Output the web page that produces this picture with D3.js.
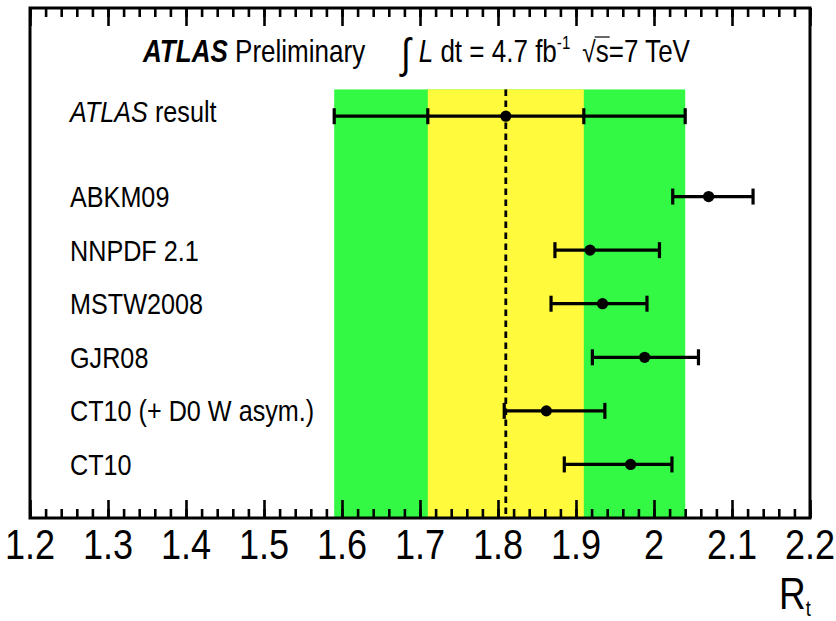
<!DOCTYPE html>
<html>
<head>
<meta charset="utf-8">
<script src="https://cdn.jsdelivr.net/npm/d3@7"></script>
<style>
  html, body { margin: 0; padding: 0; background: #fff; }
  svg { display: block; }
  text { font-family: "Liberation Sans", Arial, Helvetica, sans-serif; fill: #000; white-space: pre; }
</style>
</head>
<body>
<svg id="chart" width="836" height="621"></svg>
<script>
// R_t predictions from several PDF sets compared with the ATLAS measurement
const pdfNames  = ["ABKM09", "NNPDF 2.1", "MSTW2008", "GJR08", "CT10 (+ D0 W asym.)", "CT10"];
const pdfValues = [2.070, 1.918, 1.934, 1.988, 1.862, 1.970];
const pdfLow    = [2.024, 1.873, 1.868, 1.921, 1.808, 1.885];
const pdfHigh   = [2.127, 2.007, 1.991, 2.057, 1.937, 2.023];
const pdfRows   = [6, 5, 4, 3, 2, 1];

// ATLAS result: central value, statistical and total uncertainty
const atlasValue   = 1.81;
const atlasStatLow = 1.71,  atlasStatHigh = 1.91;
const atlasTotLow  = 1.59,  atlasTotHigh  = 2.04;
const atlasRow     = 7.5;
const bandTop      = 8;

const xTickValues = [1.2, 1.3, 1.4, 1.5, 1.6, 1.7, 1.8, 1.9, 2.0, 2.1, 2.2];
const xTickLabels = ["1.2", "1.3", "1.4", "1.5", "1.6", "1.7", "1.8", "1.9", "2", "2.1", "2.2"];
const xMinorStep  = 0.02;

const svg = d3.select("#chart");
const frame = { left: 30, right: 810, top: 8, bottom: 518 };
const SX = 0.84; // horizontal text compression

const x = d3.scaleLinear().domain([1.2, 2.2]).range([frame.left, frame.right]);
const y = d3.scaleLinear().domain([0, 9.52]).range([frame.bottom, frame.top]);

const GREEN = "#33f944", YELLOW = "#fffa3c";

// uncertainty bands
svg.append("rect")
  .attr("x", x(atlasTotLow)).attr("y", y(bandTop))
  .attr("width", x(atlasTotHigh) - x(atlasTotLow)).attr("height", y(0) - y(bandTop))
  .attr("fill", GREEN);
svg.append("rect")
  .attr("x", x(atlasStatLow)).attr("y", y(bandTop))
  .attr("width", x(atlasStatHigh) - x(atlasStatLow)).attr("height", y(0) - y(bandTop))
  .attr("fill", YELLOW);

// central value line
svg.append("line")
  .attr("x1", x(atlasValue)).attr("x2", x(atlasValue))
  .attr("y1", y(bandTop)).attr("y2", y(0))
  .attr("stroke", "#000").attr("stroke-width", 2.8)
  .attr("stroke-dasharray", "6.5,4.5");

// ticks (inward on bottom and top)
const minorTicks = d3.range(0, 51).map(i => 1.2 + i * xMinorStep);
function tickAxes(yPos, dir) {
  const gen = dir === "up" ? d3.axisTop : d3.axisBottom;
  const gMin = svg.append("g").attr("transform", `translate(0,${yPos})`)
    .call(gen(x).tickValues(minorTicks).tickSize(9).tickFormat(""));
  const gMaj = svg.append("g").attr("transform", `translate(0,${yPos})`)
    .call(gen(x).tickValues(xTickValues).tickSize(18).tickFormat(""));
  [gMin, gMaj].forEach(g => {
    g.select(".domain").remove();
    g.selectAll("line").attr("stroke", "#000").attr("stroke-width", 2.6);
  });
}
tickAxes(frame.bottom, "up");
tickAxes(frame.top, "down");

// frame
svg.append("rect")
  .attr("x", frame.left).attr("y", frame.top)
  .attr("width", frame.right - frame.left).attr("height", frame.bottom - frame.top)
  .attr("fill", "none").attr("stroke", "#000").attr("stroke-width", 3);

// tick labels
svg.selectAll("text.tick-label")
  .data(xTickValues)
  .join("text")
  .attr("class", "tick-label")
  .attr("transform", d => `translate(${x(d)},559) scale(${SX},1)`)
  .attr("text-anchor", "middle")
  .attr("font-size", 43)
  .text((d, i) => xTickLabels[i]);

// axis title R_t
const axisTitle = svg.append("text")
  .attr("transform", `translate(779,609) scale(${SX},1)`)
  .attr("font-size", 44);
axisTitle.append("tspan").text("R");
axisTitle.append("tspan").attr("font-size", 22).attr("dy", 7).text("t");

// error bars
function errorBar(v, lo, hi, row, extraCaps) {
  const yy = y(row);
  const g = svg.append("g");
  g.append("line").attr("x1", x(lo)).attr("x2", x(hi)).attr("y1", yy).attr("y2", yy)
    .attr("stroke", "#000").attr("stroke-width", 3.2);
  [lo, hi].concat(extraCaps || []).forEach(c => {
    g.append("line").attr("x1", x(c)).attr("x2", x(c)).attr("y1", yy - 8).attr("y2", yy + 8)
      .attr("stroke", "#000").attr("stroke-width", 3.2);
  });
  g.append("circle").attr("cx", x(v)).attr("cy", yy).attr("r", 5.6).attr("fill", "#000");
}
errorBar(atlasValue, atlasTotLow, atlasTotHigh, atlasRow, [atlasStatLow, atlasStatHigh]);
pdfNames.forEach((n, i) => errorBar(pdfValues[i], pdfLow[i], pdfHigh[i], pdfRows[i]));

// row labels
pdfNames.forEach((n, i) => {
  svg.append("text")
    .attr("transform", `translate(70,${y(pdfRows[i]) + 10.5}) scale(${SX},1)`)
    .attr("font-size", 30)
    .text(n);
});
const atlasLabel = svg.append("text")
  .attr("transform", `translate(70,${y(atlasRow) + 6}) scale(${SX},1)`)
  .attr("font-size", 30);
atlasLabel.append("tspan").attr("font-style", "italic").text("ATLAS");
atlasLabel.append("tspan").text(" result");

// header: pieces laid out left to right
function richLine(x0, base, pieces) {
  let cx = x0;
  pieces.forEach(p => {
    cx += (p.gap || 0);
    const t = svg.append("text")
      .attr("transform", `translate(${cx},${base + (p.dy || 0)}) scale(${SX},1)`)
      .attr("font-size", p.size || 31)
      .attr("font-style", p.italic ? "italic" : "normal")
      .attr("font-weight", p.bold ? "bold" : "normal")
      .text(p.t);
    const w = t.node().getComputedTextLength() * SX;
    if (p.overline) {
      svg.append("line").attr("x1", cx - 1).attr("x2", cx + w + 1)
        .attr("y1", base - 25).attr("y2", base - 25)
        .attr("stroke", "#000").attr("stroke-width", 1.2);
    }
    cx += w;
  });
}
richLine(143, 62, [
  { t: "ATLAS", bold: true, italic: true, size: 31 },
  { t: " Preliminary", size: 31 }
]);
richLine(401, 62, [
  { t: "\u222B", size: 42, dy: 6 },
  { t: "L", italic: true, size: 31, gap: 8 },
  { t: " dt = 4.7 fb", size: 31 },
  { t: "-1", size: 18, dy: -13 },
  { t: "\u221A", size: 29, gap: 12 },
  { t: "s", size: 31, overline: true },
  { t: "=7 TeV", size: 31 }
]);
</script>
</body>
</html>
